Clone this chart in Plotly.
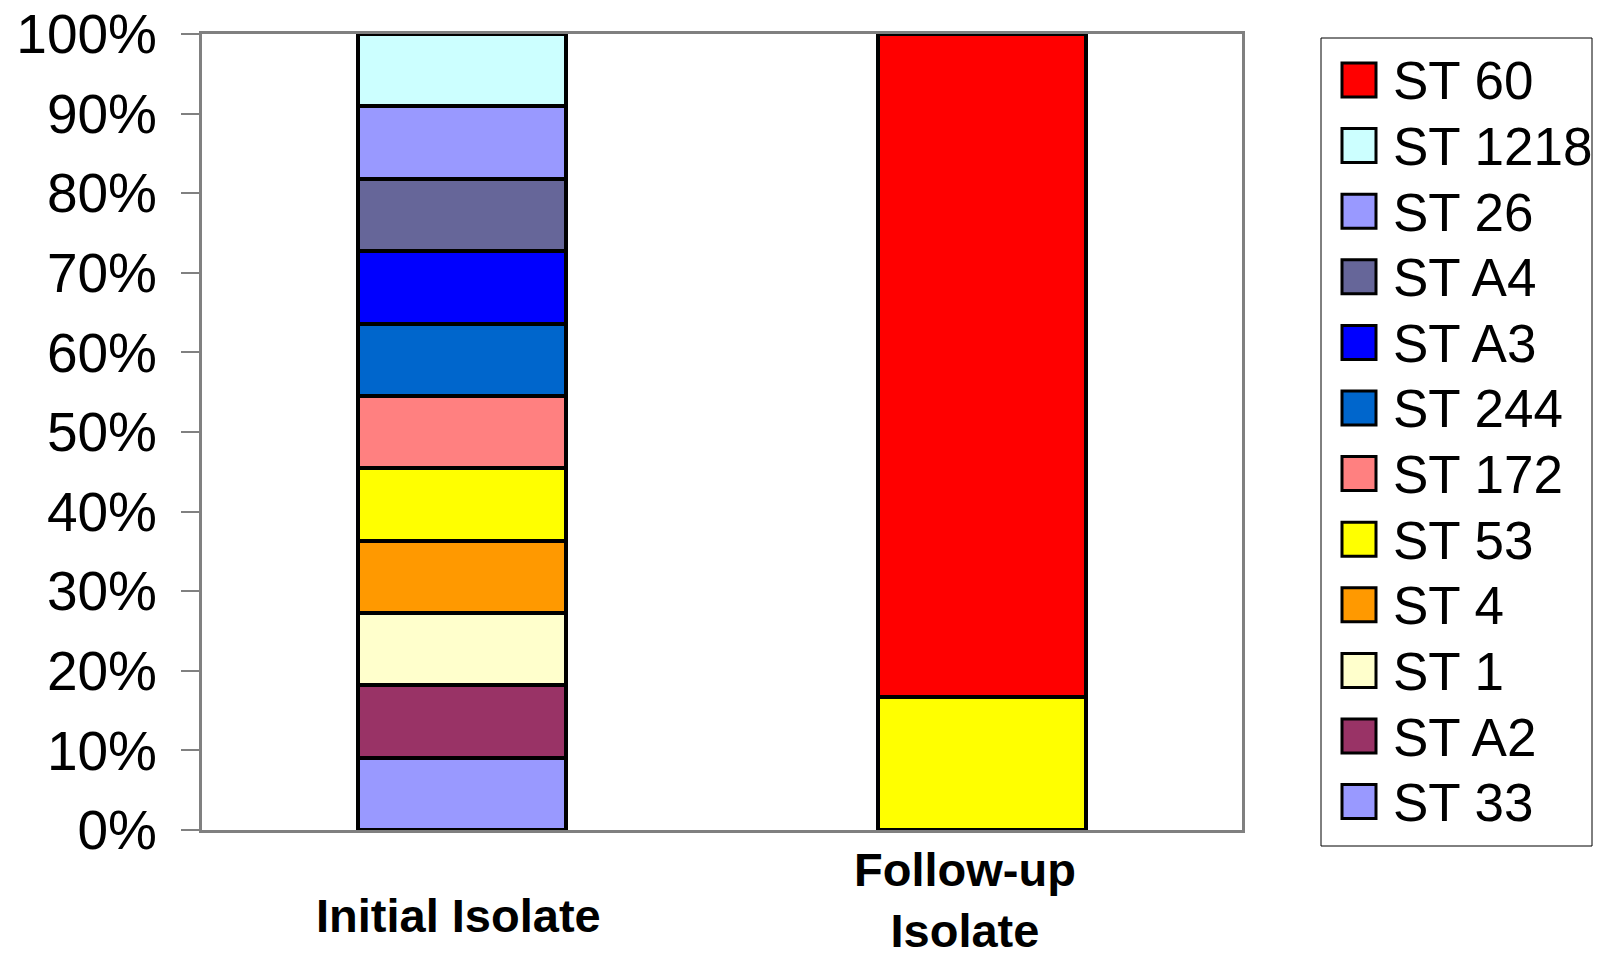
import plotly.graph_objects as go

# ---- data ----
categories = ["Initial Isolate", "Follow-up<br>Isolate"]
series_names = ["ST 33", "ST A2", "ST 1", "ST 4", "ST 53", "ST 172",
                "ST 244", "ST A3", "ST A4", "ST 26", "ST 1218", "ST 60"]
initial_pct = [9.09, 9.09, 9.09, 9.09, 9.09, 9.09, 9.09, 9.09, 9.09, 9.09, 9.09, 0]
followup_pct = [0, 0, 0, 0, 16.67, 0, 0, 0, 0, 0, 0, 83.33]
series_colors = ["#9999FF", "#993366", "#FFFFCC", "#FF9900", "#FFFF00", "#FF8080",
                 "#0066CC", "#0000FF", "#666699", "#9999FF", "#CCFFFF", "#FF0000"]
y_ticks = [0, 10, 20, 30, 40, 50, 60, 70, 80, 90, 100]
y_tick_labels = ["0%", "10%", "20%", "30%", "40%", "50%", "60%", "70%", "80%", "90%", "100%"]

# ---- layout constants (page pixels) ----
BODY = 8                      # default body margin of the html page
W, H = 1602 - 2 * BODY, 962 - 2 * BODY
PL, PR, PT, PB = 202, 1242, 34, 830
pw, ph = PR - PL, PB - PT

def px_x(x):
    return (x - PL) / pw

def px_y(y):
    return (PB - y) / ph

fig = go.Figure()
for name, a, b, c in zip(series_names, initial_pct, followup_pct, series_colors):
    fig.add_trace(go.Bar(
        x=categories, y=[a, b], name=name,
        marker=dict(color=c, line=dict(color="black", width=4)),
        showlegend=False,
    ))

# custom legend (large swatches), top item = last series
shapes = []
annotations = []
legend_names = series_names[::-1]
legend_colors = series_colors[::-1]
shapes.append(dict(type="rect", xref="paper", yref="paper",
                   x0=px_x(1321), x1=px_x(1592), y0=px_y(846), y1=px_y(38),
                   line=dict(color="black", width=1), fillcolor="white", layer="below"))
for i, (n, c) in enumerate(zip(legend_names, legend_colors)):
    cy = 80 + 65.6 * i
    shapes.append(dict(type="rect", xref="paper", yref="paper",
                       x0=px_x(1342), x1=px_x(1376), y0=px_y(cy + 17), y1=px_y(cy - 17),
                       line=dict(color="black", width=3), fillcolor=c))
    annotations.append(dict(xref="paper", yref="paper", x=px_x(1391), y=px_y(cy + 1),
                            xanchor="left", yanchor="middle", text=n, showarrow=False,
                            font=dict(family="Liberation Sans, Arial", size=53, color="black")))

# category labels, positioned like the original
label_centres = [915, 900]
label_shifts = [-4, -17]
for cat, cy, dx in zip(categories, label_centres, label_shifts):
    annotations.append(dict(xref="x", yref="paper", x=cat, y=px_y(cy), xshift=dx,
                            xanchor="center", yanchor="middle", text=cat, showarrow=False,
                            font=dict(family="Liberation Sans, Arial",
                                      size=47, color="black", weight="bold")))

fig.update_layout(
    template="none",
    barmode="stack",
    bargap=0.6,
    width=W, height=H,
    margin=dict(l=PL - BODY, r=(W + BODY) - PR, t=PT - BODY, b=(H + BODY) - PB, pad=0,
                autoexpand=False),
    plot_bgcolor="white",
    paper_bgcolor="white",
    font=dict(family="Liberation Sans, Arial", color="black"),
    shapes=shapes,
    annotations=annotations,
)
fig.update_xaxes(type="category", range=[-0.5, 1.5], showticklabels=False,
                 showline=True, mirror=True, linecolor="#808080", linewidth=3,
                 ticks="", showgrid=False, zeroline=False, automargin=False)
fig.update_yaxes(range=[0, 100], tickvals=y_ticks, ticktext=y_tick_labels,
                 showline=True, mirror=True, linecolor="#808080", linewidth=3,
                 ticks="outside", ticklen=18, tickwidth=2, tickcolor="#808080",
                 ticklabelstandoff=13, automargin=False, ticklabeloverflow="allow",
                 tickfont=dict(family="Liberation Sans, Arial", size=55, color="black"),
                 showgrid=False, zeroline=False)

fig.write_html("out.html")
